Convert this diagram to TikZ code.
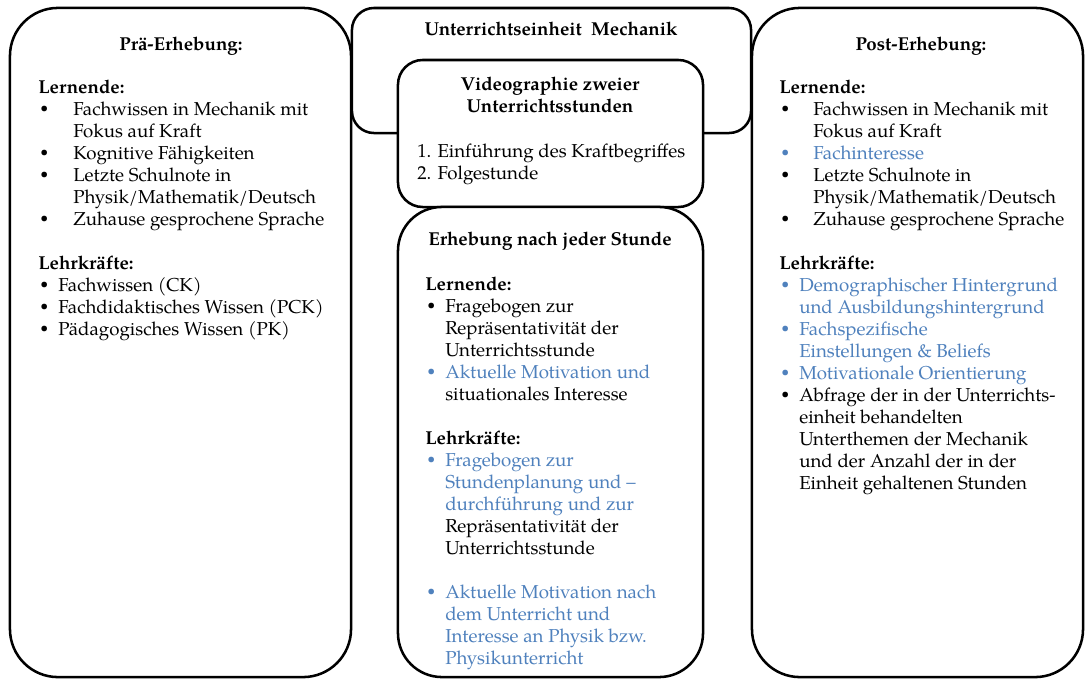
\documentclass[tikz,border=0pt]{standalone}
\usepackage{fontspec}
\setmainfont{TeX Gyre Pagella}
\usepackage{xcolor}
\usepackage{tikz}
\usetikzlibrary{positioning}
\definecolor{accblue}{RGB}{79,129,189}
\newcommand{\bodyfont}{\fontsize{13.3}{15.65}\selectfont}
\newcommand{\bl}[1]{\makebox[#1][l]{\hspace{0.05cm}\raisebox{0.3ex}{\scalebox{0.75}{\textbullet}}}}
\newcommand{\cont}[1]{\hspace*{#1}}
\tikzstyle{bigbox}=[%
      rectangle, draw=black, line width=1.8pt, fill=white,
      rounded corners=1.2cm, inner sep=0pt
]
\tikzstyle{smallbox}=[%
      rectangle, draw=black, line width=1.8pt, fill=white,
      rounded corners=0.6cm, inner sep=0pt
]
\tikzstyle{head}=[%
      anchor=base, inner sep=0pt, font=\bodyfont\bfseries
]
\tikzstyle{txt}=[%
      anchor=north west, inner sep=0pt, align=left, font=\bodyfont
]
\begin{document}
\begin{tikzpicture}[x=0.025cm, y=-0.025cm]
    \useasboundingbox (0,0) rectangle (1085,679);

    \node[bigbox, minimum width=8.525cm, minimum height=16.725cm] (pre) at (180.5,342.5) {};
    \node[bigbox, minimum width=8.275cm, minimum height=16.725cm] (post) at (917.5,342.5) {};
    \node[smallbox, rounded corners=0.55cm, minimum width=9.975cm, minimum height=3.125cm] (unit) at (551.5,70.5) {};
    \node[smallbox, rounded corners=0.62cm, minimum width=7.625cm, minimum height=3.675cm] (video) at (550.5,133.5) {};
    \node[bigbox, rounded corners=1.1cm, minimum width=7.625cm, minimum height=11.75cm] (after) at (550.5,442) {};

    \node[head] (preHead) at (181,50) {Prä-Erhebung:};
    \node[head] (postHead) at (921,50) {Post-Erhebung:};
    \node[head] (unitHead) at (551,35) {Unterrichtseinheit~ Mechanik};
    \node[head, anchor=north, align=center] (videoHead) at (550,74.6) {\strut Videographie zweier\\Unterrichtsstunden};
    \node[head] (afterHead) at (550,245) {Erhebung nach jeder Stunde};

    \node[txt] (preText) at (38,77.6) {\strut\textbf{Lernende:}\\
      \bl{0.875cm}Fachwissen in Mechanik mit\\
      \cont{0.875cm}Fokus auf Kraft\\
      \bl{0.875cm}Kognitive Fähigkeiten\\
      \bl{0.875cm}Letzte Schulnote in\\
      \cont{0.875cm}Physik/Mathematik/Deutsch\\
      \bl{0.875cm}Zuhause gesprochene Sprache\\[0.55cm]
      \textbf{Lehrkräfte:}\\
      \bl{0.5cm}Fachwissen (CK)\\
      \bl{0.5cm}Fachdidaktisches Wissen (PCK)\\
      \bl{0.5cm}Pädagogisches Wissen (PK)};

    \node[txt] (videoText) at (417,141.6) {\strut 1. Einführung des Kraftbegriffes\\2. Folgestunde};

    \node[txt] (afterText) at (425,274.6) {\strut\textbf{Lernende:}\\
      \bl{0.5cm}Fragebogen zur\\
      \cont{0.5cm}Repräsentativität der\\
      \cont{0.5cm}Unterrichtsstunde\\
      \textcolor{accblue}{\bl{0.5cm}Aktuelle Motivation und}\\
      \cont{0.5cm}situationales Interesse\\[0.55cm]
      \textbf{Lehrkräfte:}\\
      \textcolor{accblue}{\bl{0.5cm}Fragebogen zur}\\
      \textcolor{accblue}{\cont{0.5cm}Stundenplanung und –}\\
      \textcolor{accblue}{\cont{0.5cm}durchführung und zur}\\
      \cont{0.5cm}Repräsentativität der\\
      \cont{0.5cm}Unterrichtsstunde\\[0.55cm]
      \textcolor{accblue}{\bl{0.5cm}Aktuelle Motivation nach}\\
      \textcolor{accblue}{\cont{0.5cm}dem Unterricht und}\\
      \textcolor{accblue}{\cont{0.5cm}Interesse an Physik bzw.}\\
      \textcolor{accblue}{\cont{0.5cm}Physikunterricht}};

    \node[txt] (postText) at (779,77.6) {\strut\textbf{Lernende:}\\
      \bl{0.85cm}Fachwissen in Mechanik mit\\
      \cont{0.85cm}Fokus auf Kraft\\
      \textcolor{accblue}{\bl{0.85cm}Fachinteresse}\\
      \bl{0.85cm}Letzte Schulnote in\\
      \cont{0.85cm}Physik/Mathematik/Deutsch\\
      \bl{0.85cm}Zuhause gesprochene Sprache\\[0.55cm]
      \textbf{Lehrkräfte:}\\
      \textcolor{accblue}{\bl{0.5cm}Demographischer Hintergrund}\\
      \textcolor{accblue}{\cont{0.5cm}und Ausbildungshintergrund}\\
      \textcolor{accblue}{\bl{0.5cm}Fachspezifische}\\
      \textcolor{accblue}{\cont{0.5cm}Einstellungen \& Beliefs}\\
      \textcolor{accblue}{\bl{0.5cm}Motivationale Orientierung}\\
      \bl{0.5cm}Abfrage der in der Unterrichts-\\
      \cont{0.5cm}einheit behandelten\\
      \cont{0.5cm}Unterthemen der Mechanik\\
      \cont{0.5cm}und der Anzahl der in der\\
      \cont{0.5cm}Einheit gehaltenen Stunden};
\end{tikzpicture}
\end{document}
